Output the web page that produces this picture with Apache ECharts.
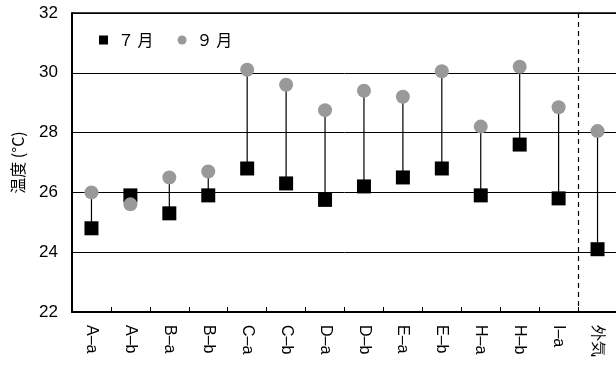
<!DOCTYPE html>
<html>
<head>
<meta charset="utf-8">
<script src="https://cdn.jsdelivr.net/npm/echarts@6/dist/echarts.min.js"></script>
<style>
html,body{margin:0;padding:0;background:#fff;overflow:hidden;width:616px;height:369px;}
#chart{width:640px;height:369px;}
</style>
</head>
<body>
<div id="chart"></div>
<script>
// Measurement points and outdoor air
const categories = ['A–a','A–b','B–a','B–b','C–a','C–b','D–a','D–b','E–a','E–b','H–a','H–b','I–a','外気'];
// Temperature (°C)
const julyTemps = [24.8, 25.9, 25.3, 25.9, 26.8, 26.3, 25.75, 26.2, 26.5, 26.8, 25.9, 27.6, 25.8, 24.1];
const septTemps = [26.0, 25.6, 26.5, 26.7, 30.1, 29.6, 28.75, 29.4, 29.2, 30.05, 28.2, 30.2, 28.85, 28.05];
const yTicks = [22, 24, 26, 28, 30, 32];
const seriesNames = ['７ 月', '９ 月'];

const numFont = '"Liberation Sans Narrow", "Liberation Sans", Arial, sans-serif';
const jpFont = '"Noto Sans CJK JP", sans-serif';

// The outdoor-air column is set apart by a dashed divider on its left edge
const outdoorIndex = categories.indexOf('外気');
const yMin = yTicks[0];
const yMax = yTicks[yTicks.length - 1];

const rangeData = categories.map((c, i) => [i, julyTemps[i], septTemps[i]]);

const chart = echarts.init(document.getElementById('chart'), null, {renderer: 'canvas'});
chart.setOption({
  animation: false,
  backgroundColor: '#fff',
  grid: {left: 72, top: 13, width: 545, height: 299, containLabel: false},
  legend: {
    left: 94, top: 27,
    itemWidth: 9, itemHeight: 9, itemGap: 24,
    textStyle: {fontFamily: jpFont, fontSize: 16, color: '#000', padding: [0, 0, 0, 5]},
    data: [
      {name: seriesNames[0], icon: 'rect'},
      {name: seriesNames[1], icon: 'circle'}
    ]
  },
  xAxis: {
    type: 'category',
    data: categories,
    boundaryGap: true,
    axisLine: {show: true, lineStyle: {color: '#000', width: 2}},
    axisTick: {show: true, inside: true, length: 5, interval: 0, lineStyle: {color: '#000', width: 1}},
    axisLabel: {
      rotate: -90, margin: 13, interval: 0,
      fontFamily: numFont, fontSize: 16, color: '#000'
    },
    splitLine: {show: false}
  },
  yAxis: {
    type: 'value',
    min: yMin, max: yMax, interval: 2,
    name: '温度 (°C)',
    nameLocation: 'middle', nameGap: 46, nameRotate: 90,
    nameTextStyle: {fontFamily: jpFont, fontSize: 16, color: '#000'},
    axisLine: {show: true, lineStyle: {color: '#000', width: 2}},
    axisTick: {show: false},
    axisLabel: {fontFamily: numFont, fontSize: 17, color: '#000', margin: 14},
    splitLine: {show: true, lineStyle: {color: '#000', width: 1}}
  },
  series: [
    {
      type: 'custom',
      name: 'range',
      silent: true,
      z: 1,
      renderItem: (params, api) => {
        const i = api.value(0);
        const a = api.coord([i, api.value(1)]);
        const b = api.coord([i, api.value(2)]);
        const children = [{
          type: 'line',
          shape: {x1: a[0], y1: a[1], x2: b[0], y2: b[1]},
          style: {stroke: '#000', lineWidth: 1.2}
        }];
        if (i === outdoorIndex) {
          const halfBand = api.size([1, 0])[0] / 2;
          const top = api.coord([i, yMax]);
          const bottom = api.coord([i, yMin]);
          const x = Math.round(top[0] - halfBand) + 0.5;
          children.push({
            type: 'line',
            shape: {x1: x, y1: top[1], x2: x, y2: bottom[1]},
            style: {stroke: '#000', lineWidth: 1.2, lineDash: [5, 4]}
          });
        }
        return {type: 'group', children: children};
      },
      encode: {x: 0, y: [1, 2]},
      data: rangeData
    },
    {
      type: 'scatter', name: seriesNames[0], data: julyTemps,
      symbol: 'rect', symbolSize: 14, z: 3,
      itemStyle: {color: '#000', opacity: 1}
    },
    {
      type: 'scatter', name: seriesNames[1], data: septTemps,
      symbol: 'circle', symbolSize: 14, z: 4,
      itemStyle: {color: '#999999', opacity: 1}
    }
  ],
  graphic: [
    // top border of the plot area
    {type: 'line', z: 10, shape: {x1: 72, y1: 13, x2: 617, y2: 13}, style: {stroke: '#000', lineWidth: 1.5}}
  ]
});
</script>
</body>
</html>
